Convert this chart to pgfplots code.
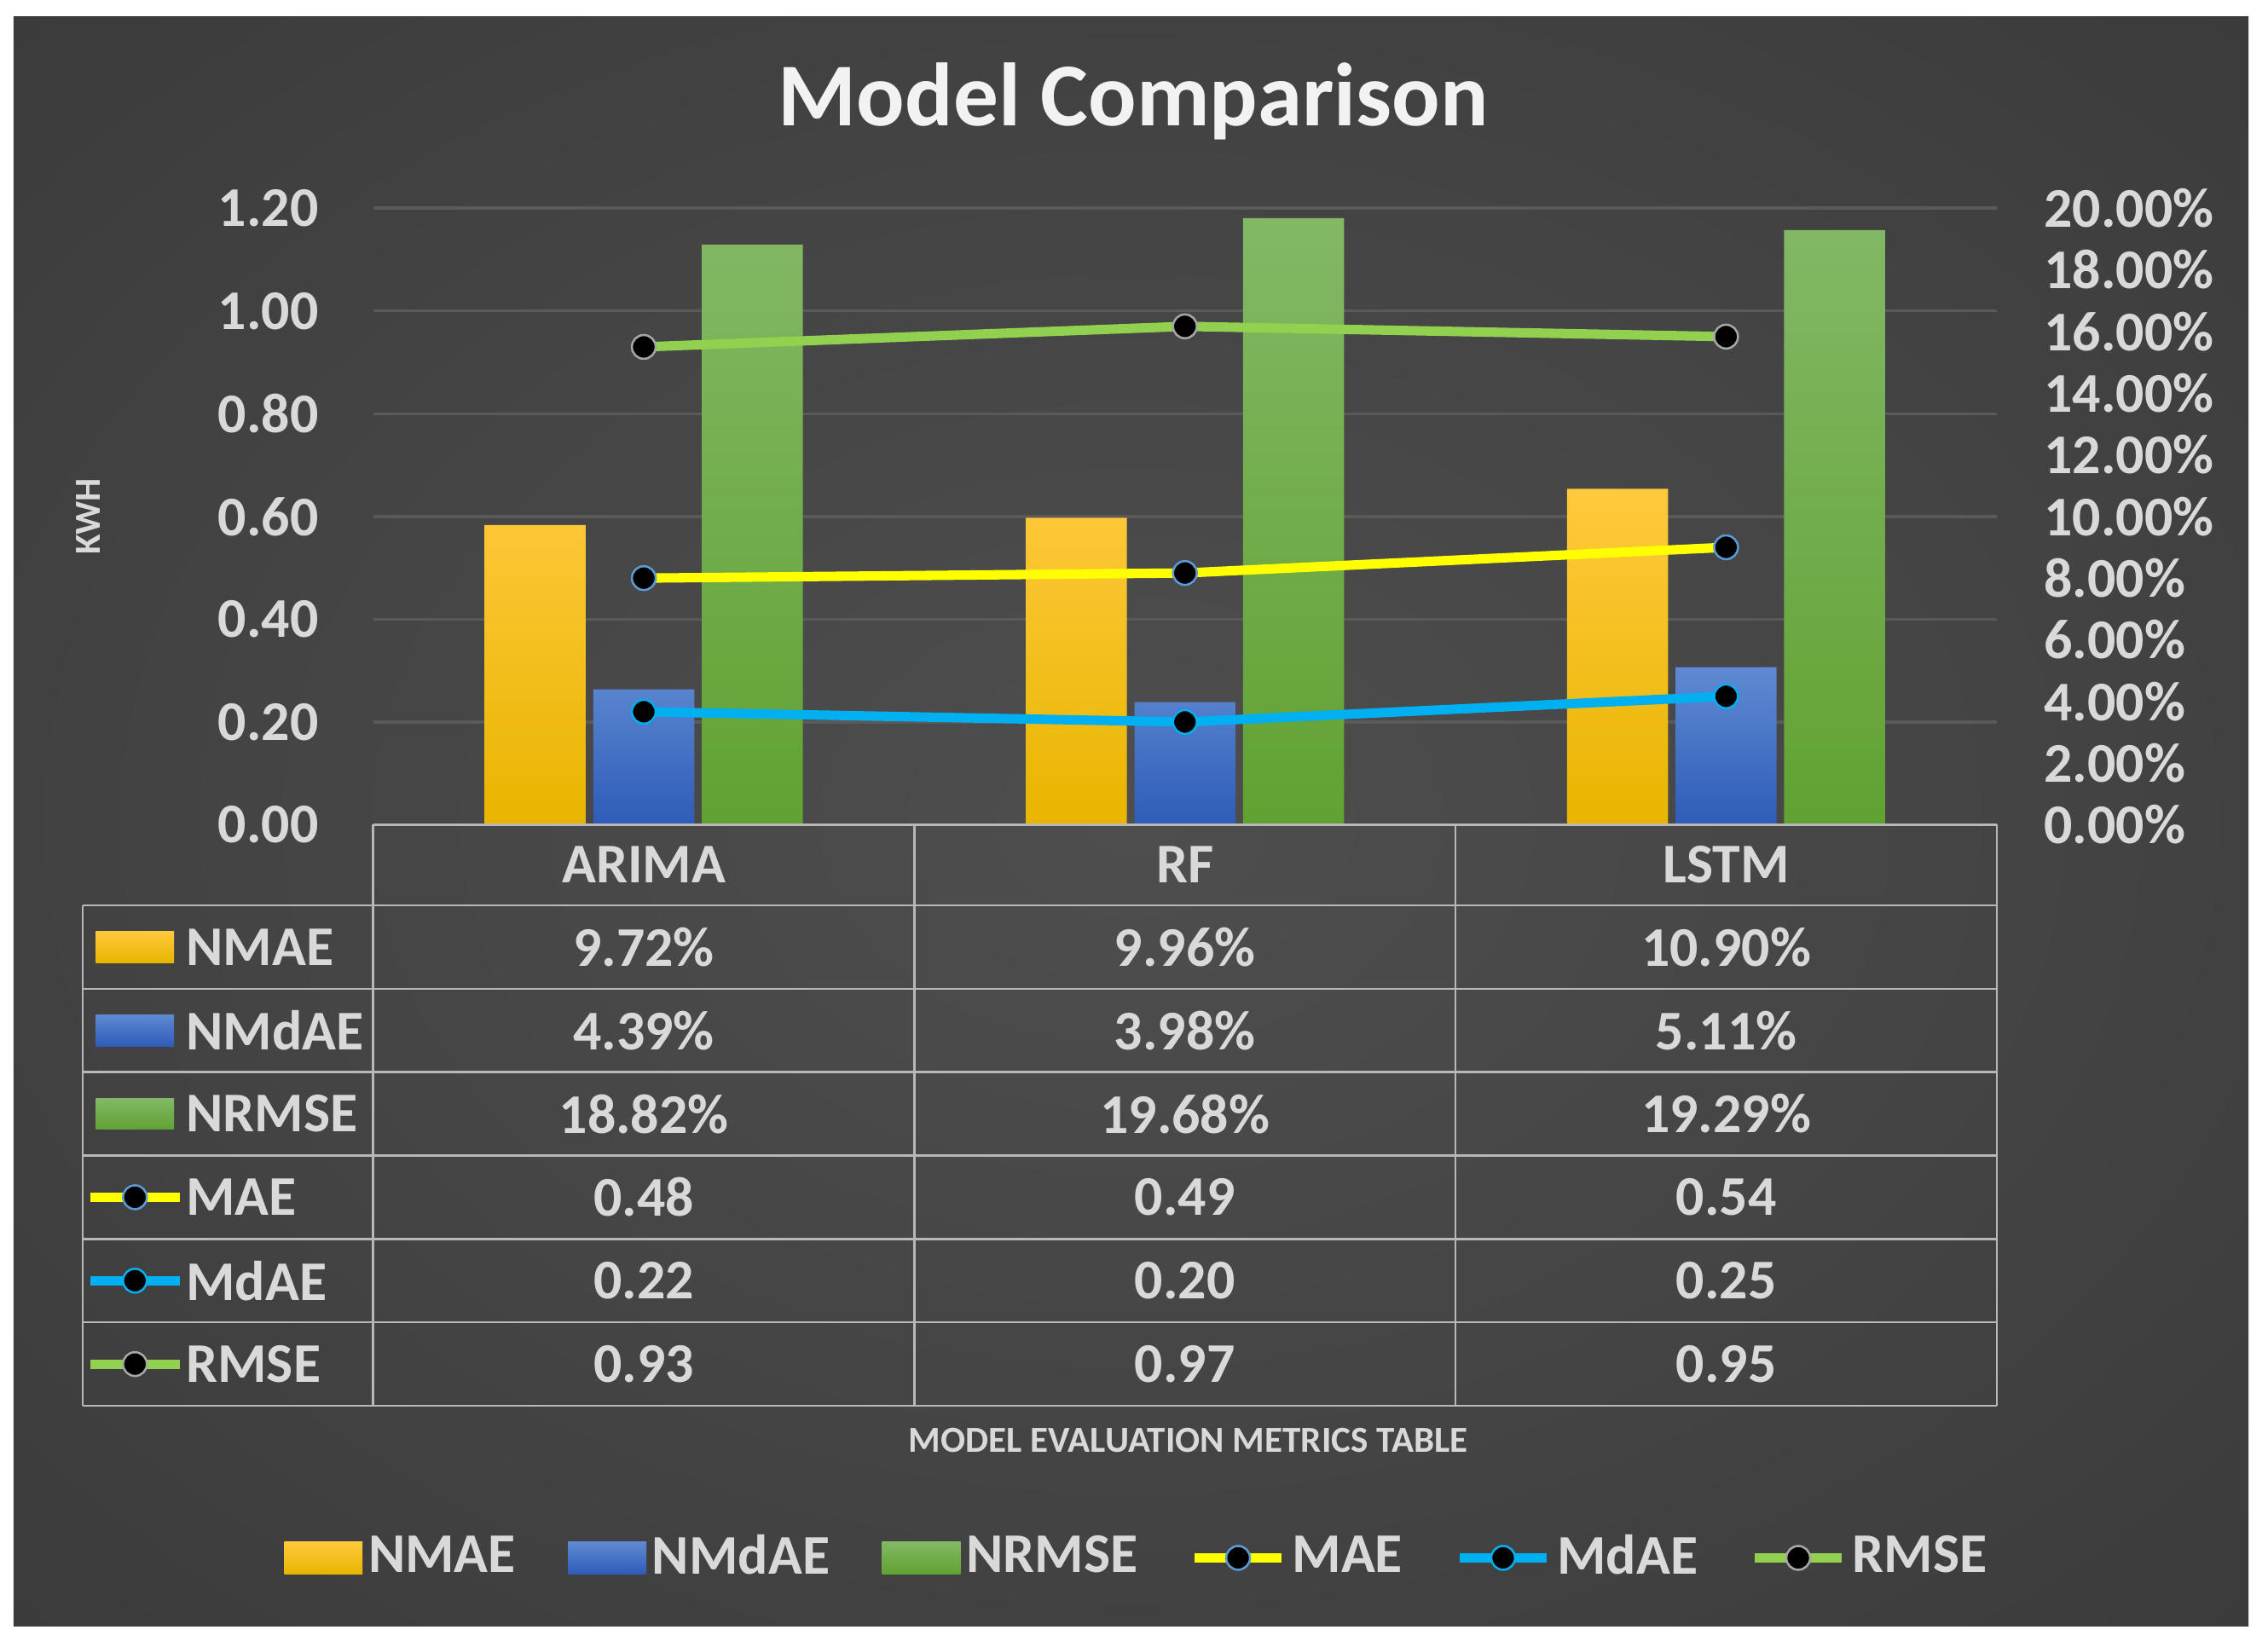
\documentclass[border=0pt]{standalone}
\usepackage{pgfplots}
\pgfplotsset{compat=1.18}
\usepackage{fontspec}
\setmainfont{Carlito}
\definecolor{txt}{HTML}{D9D9D9}
\definecolor{titlec}{HTML}{F2F2F2}
\definecolor{gridc}{HTML}{5A5A5A}
\definecolor{tabline}{HTML}{B8B8B8}
\definecolor{orT}{HTML}{FFC93C}
\definecolor{orB}{HTML}{E8B500}
\definecolor{blT}{HTML}{5F8AD2}
\definecolor{blB}{HTML}{2E5CB8}
\definecolor{grT}{HTML}{83B865}
\definecolor{grB}{HTML}{60A232}
\definecolor{maeC}{HTML}{FFFF00}
\definecolor{mdaeC}{HTML}{00B0F0}
\definecolor{rmseC}{HTML}{92D050}
\definecolor{maeM}{HTML}{5B9BD5}
\definecolor{rmseM}{HTML}{A6A6A6}
\definecolor{bgIn}{HTML}{4E4E4E}
\definecolor{bgMid}{HTML}{444444}
\definecolor{bgOut}{HTML}{262626}
\pgfdeclareradialshading{bgshade}{\pgfpoint{0bp}{0bp}}{color(0bp)=(bgIn); color(20bp)=(bgMid); color(72bp)=(bgOut)}
\newcommand{\tfont}{\fontsize{11}{13}\selectfont\bfseries}
\newcommand{\sfont}{\fontsize{7.2}{9}\selectfont\bfseries}
\pgfplotsset{
  /pgf/number format/assume math mode=true,
  barleg/.style n args={2}{legend image code/.code={\path[draw=none,top color=#1,bottom color=#2] (0mm,-1.1mm) rectangle (5.4mm,1.1mm);}},
  chartbase/.style={
    at={(25.72mm,56.65mm)}, anchor=south west,
    width=111.88mm, height=42.5mm, scale only axis,
    xmin=-0.5, xmax=2.5, xtick=\empty,
    major tick length=0pt,
    axis line style={draw=none},
    clip=false,
  },
}
\begin{document}
\begin{tikzpicture}
\begin{scope}[x=0.1mm,y=-0.1mm,yshift=113.5mm]
  \fill[white] (0,0) rectangle (1563,1135);
  \shade[shading=bgshade] (9.4,11.3) rectangle (1549.6,1120.7);
  \node[text=titlec, font=\fontsize{17.6}{20}\selectfont\bfseries] at (781,70) {Model Comparison};
  \node[text=txt, font=\sfont, rotate=90] at (61,356) {KWH};
\end{scope}

% bars on the right (percent) axis
\begin{axis}[
  chartbase,
  ymin=0, ymax=20,
  ytick={0,2,4,6,8,10,12,14,16,18,20},
  yticklabels={0.00\%,2.00\%,4.00\%,6.00\%,8.00\%,10.00\%,12.00\%,14.00\%,16.00\%,18.00\%,20.00\%},
  yticklabel pos=right,
  yticklabel style={anchor=west, inner sep=0pt, xshift=3.2mm, text=txt, font=\tfont},
  extra y ticks={3.33333,6.66667,10,13.33333,16.66667,20},
  extra y tick labels={},
  extra y tick style={ymajorgrids=true, major grid style={gridc, line width=0.2mm}},
]
\addplot[ybar, bar width=6.96mm, bar shift=-7.48mm, draw=none, top color=orT, bottom color=orB]
  coordinates {(0,9.72) (1,9.96) (2,10.90)};
\addplot[ybar, bar width=6.96mm, bar shift=0mm, draw=none, top color=blT, bottom color=blB]
  coordinates {(0,4.39) (1,3.98) (2,5.11)};
\addplot[ybar, bar width=6.96mm, bar shift=7.48mm, draw=none, top color=grT, bottom color=grB]
  coordinates {(0,18.82) (1,19.68) (2,19.29)};
\end{axis}

% lines on the left (kWh) axis
\begin{axis}[
  chartbase,
  ymin=0, ymax=1.2,
  ytick={0,0.2,0.4,0.6,0.8,1.0,1.2},
  yticklabels={0.00,0.20,0.40,0.60,0.80,1.00,1.20},
  yticklabel style={anchor=east, inner sep=0pt, xshift=-3.7mm, text=txt, font=\tfont},
  legend columns=6,
  legend style={at={(0.4727,-1.189)}, anchor=center, draw=none, fill=none,
    text=txt, font=\tfont,
    /tikz/every odd column/.append style={column sep=-0.3mm},
    /tikz/every even column/.append style={column sep=2.9mm}},
  legend cell align=left,
]
\addlegendimage{barleg={orT}{orB}}
\addlegendentry{NMAE}
\addlegendimage{barleg={blT}{blB}}
\addlegendentry{NMdAE}
\addlegendimage{barleg={grT}{grB}}
\addlegendentry{NRMSE}
\addplot[maeC, line width=0.65mm, mark=*, mark size=0.82mm, mark options={fill=black, draw=maeM, line width=0.15mm}]
  coordinates {(0,0.48) (1,0.49) (2,0.54)};
\addlegendentry{MAE}
\addplot[mdaeC, line width=0.65mm, mark=*, mark size=0.82mm, mark options={fill=black, draw=mdaeC, line width=0.15mm}]
  coordinates {(0,0.22) (1,0.20) (2,0.25)};
\addlegendentry{MdAE}
\addplot[rmseC, line width=0.65mm, mark=*, mark size=0.82mm, mark options={fill=black, draw=rmseM, line width=0.15mm}]
  coordinates {(0,0.93) (1,0.97) (2,0.95)};
\addlegendentry{RMSE}
\end{axis}

% data table
\begin{scope}[x=0.1mm,y=-0.1mm,yshift=113.5mm]
  \draw[tabline, line width=0.15mm] (257.2,568.5) -- (1376,568.5);
  \foreach \yy in {624,681.5,739,796.5,854,911.5,969}
    \draw[tabline, line width=0.15mm] (57,\yy) -- (1376,\yy);
  \draw[tabline, line width=0.15mm] (57,624) -- (57,969);
  \foreach \xx in {257.2,630.1,1003.1,1376}
    \draw[tabline, line width=0.15mm] (\xx,568.5) -- (\xx,969);
  \begin{scope}[every node/.style={text=txt, font=\tfont, inner sep=0pt}]
    \node at (443.7,596) {ARIMA};
    \node at (816.6,596) {RF};
    \node at (1189.6,596) {LSTM};
    % row labels
    \shade[top color=orT,bottom color=orB] (66,642) rectangle (120,663.5);
    \node[anchor=west] at (127.6,652.75) {NMAE};
    \shade[top color=blT,bottom color=blB] (66,699.5) rectangle (120,721);
    \node[anchor=west] at (127.6,710.25) {NMdAE};
    \shade[top color=grT,bottom color=grB] (66,757) rectangle (120,778.5);
    \node[anchor=west] at (127.6,767.75) {NRMSE};
    \draw[maeC, line width=0.65mm] (62,825.25) -- (124,825.25);
    \filldraw[fill=black, draw=maeM, line width=0.15mm] (93,825.25) circle (0.82mm);
    \node[anchor=west] at (127.6,825.25) {MAE};
    \draw[mdaeC, line width=0.65mm] (62,882.75) -- (124,882.75);
    \filldraw[fill=black, draw=mdaeC, line width=0.15mm] (93,882.75) circle (0.82mm);
    \node[anchor=west] at (127.6,882.75) {MdAE};
    \draw[rmseC, line width=0.65mm] (62,940.25) -- (124,940.25);
    \filldraw[fill=black, draw=rmseM, line width=0.15mm] (93,940.25) circle (0.82mm);
    \node[anchor=west] at (127.6,940.25) {RMSE};
    % values
    \node at (443.7,652.75) {9.72\%};  \node at (816.6,652.75) {9.96\%};  \node at (1189.6,652.75) {10.90\%};
    \node at (443.7,710.25) {4.39\%};  \node at (816.6,710.25) {3.98\%};  \node at (1189.6,710.25) {5.11\%};
    \node at (443.7,767.75) {18.82\%}; \node at (816.6,767.75) {19.68\%}; \node at (1189.6,767.75) {19.29\%};
    \node at (443.7,825.25) {0.48};    \node at (816.6,825.25) {0.49};    \node at (1189.6,825.25) {0.54};
    \node at (443.7,882.75) {0.22};    \node at (816.6,882.75) {0.20};    \node at (1189.6,882.75) {0.25};
    \node at (443.7,940.25) {0.93};    \node at (816.6,940.25) {0.97};    \node at (1189.6,940.25) {0.95};
  \end{scope}
  \node[text=txt, font=\sfont] at (819,993) {MODEL EVALUATION METRICS TABLE};
\end{scope}
\pgfresetboundingbox
\useasboundingbox (0,0) rectangle (156.3mm,113.5mm);
\end{tikzpicture}
\end{document}
